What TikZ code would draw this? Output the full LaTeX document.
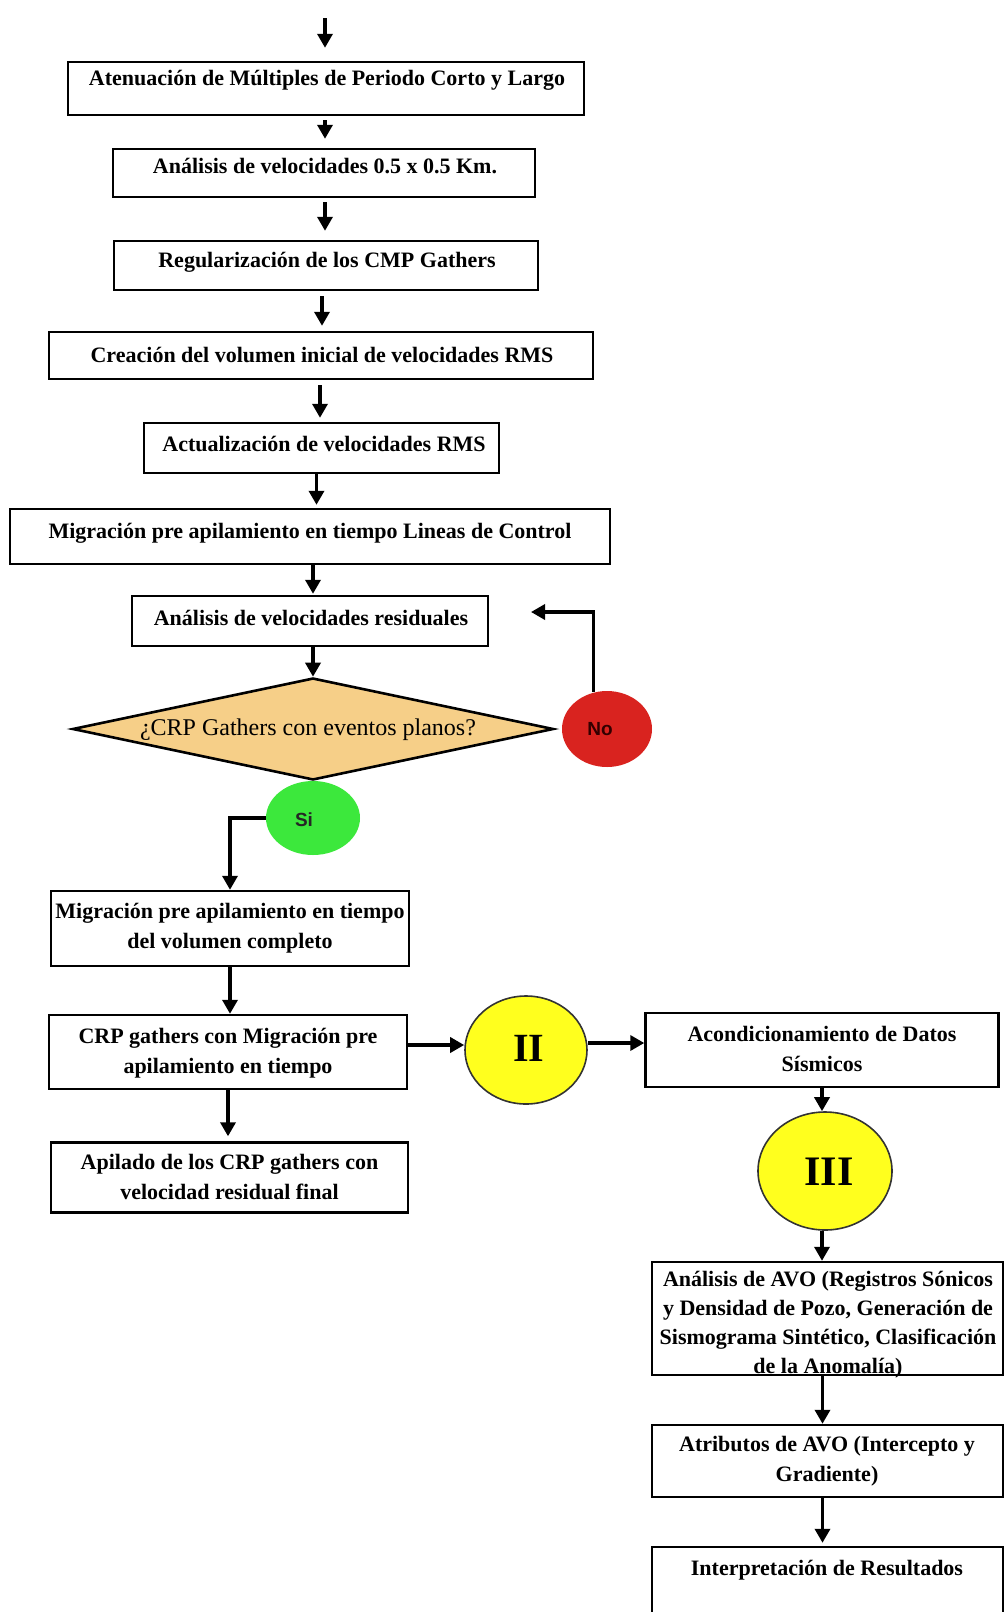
\documentclass[tikz,border=0pt]{standalone}
\usepackage{fontspec}
\setmainfont{Liberation Serif}
\newfontfamily\sansf{Liberation Sans}
\usetikzlibrary{shapes.geometric,arrows.meta}
\definecolor{dia}{HTML}{F6CF88}
\definecolor{nored}{HTML}{D9231F}
\definecolor{sigreen}{HTML}{3CE83C}
\definecolor{yel}{HTML}{FFFF1E}
\begin{document}
\begin{tikzpicture}[x=1pt,y=-1pt,
  box/.style={draw, line width=2.4pt, rectangle, inner sep=0pt},
  txt/.style={font=\fontsize{22}{30}\selectfont\bfseries, align=center, inner sep=0pt},
  arr/.style={line width=3.4pt, -{Triangle[length=14pt,width=15pt]}},
  yelc/.style={ellipse, draw=black!80, line width=1.6pt, fill=yel, inner sep=0pt},
  lab/.style={font=\sansf\bfseries\fontsize{19}{19}\selectfont, inner sep=0pt}
]
\useasboundingbox (0,0) rectangle (1006,1612);

% boxes
\node[box, minimum width=516pt, minimum height=53pt] (A) at (326,88.5) {};
\node[txt] (At) at (327,80) {Atenuación de Múltiples de Periodo Corto y Largo};
\node[box, minimum width=422pt, minimum height=48pt] (B) at (324,173) {};
\node[txt] (Bt) at (325,166) {Análisis de velocidades 0.5 x 0.5 Km.};
\node[box, minimum width=424pt, minimum height=49pt] (C) at (326,265.5) {};
\node[txt] (Ct) at (327,262) {Regularización de los CMP Gathers};
\node[box, minimum width=544pt, minimum height=47pt] (D) at (321,355.5) {};
\node[txt] (Dt) at (322,355) {Creación del volumen inicial de velocidades RMS};
\node[box, minimum width=355pt, minimum height=50pt] (E) at (321.5,448) {};
\node[txt] (Et) at (324,444) {Actualización de velocidades RMS};
\node[box, minimum width=600pt, minimum height=55pt] (F) at (310,536.5) {};
\node[txt] (Ft) at (310,533) {Migración pre apilamiento en tiempo Lineas de Control};
\node[box, minimum width=356pt, minimum height=50pt] (G) at (310,621) {};
\node[txt] (Gt) at (311,618) {Análisis de velocidades residuales};

% decision
\node[diamond, draw, line width=2.6pt, fill=dia, minimum width=481pt, minimum height=102pt, inner sep=0pt] (dec) at (313,729) {};
\node[font=\fontsize{24}{24}\selectfont, inner sep=0pt] (dect) at (308,730) {¿CRP Gathers con eventos planos?};
\node[ellipse, fill=nored, minimum width=90pt, minimum height=76pt, inner sep=0pt] (No) at (607,729) {};
\node[lab, text=black!80!red] (Not) at (600,729) {No};
\node[ellipse, fill=sigreen, minimum width=94pt, minimum height=74pt, inner sep=0pt] (Si) at (313,818) {};
\node[lab, text=black!85] (Sit) at (304,820) {Si};
\coordinate (noend) at (531,612);

% left column lower
\node[box, minimum width=358pt, minimum height=75pt] (H) at (230,928.5) {};
\node[txt] (Ht) at (230,928) {Migración pre apilamiento en tiempo\\del volumen completo};
\node[box, minimum width=358pt, minimum height=74pt] (I) at (228,1052) {};
\node[txt] (It) at (228,1053) {CRP gathers con Migración pre\\apilamiento en tiempo};
\node[box, minimum width=357pt, minimum height=70pt] (N) at (229.5,1177.5) {};
\node[txt] (Nt) at (229.5,1177) {Apilado de los CRP gathers con\\velocidad residual final};

% circles and right column
\node[yelc, minimum width=122pt, minimum height=108pt] (II) at (526,1050) {};
\node[font=\fontsize{40}{40}\selectfont\bfseries, inner sep=0pt] (IIt) at (529,1048) {II};
\node[box, minimum width=353pt, minimum height=74pt] (J) at (822,1050) {};
\node[txt] (Jt) at (822,1049) {Acondicionamiento de Datos\\Sísmicos};
\node[yelc, minimum width=134pt, minimum height=118pt] (III) at (825,1171) {};
\node[font=\fontsize{42}{42}\selectfont\bfseries, inner sep=0pt] (IIIt) at (829,1172) {III};
\node[txt, font=\fontsize{22}{29}\selectfont\bfseries] (Kt) at (828,1325) {Análisis de AVO (Registros Sónicos\\y Densidad de Pozo, Generación de\\Sismograma Sintético, Clasificación\\de la Anomalía)};
\node[box, minimum width=351pt, minimum height=113pt] (K) at (827.5,1318.5) {};
\node[box, minimum width=351pt, minimum height=72pt] (L) at (827.5,1461) {};
\node[txt] (Lt) at (827,1461) {Atributos de AVO (Intercepto y\\Gradiente)};
\node[box, minimum width=351pt, minimum height=90pt] (M) at (827.5,1592) {};
\node[txt] (Mt) at (827,1570) {Interpretación de Resultados};

% connectors
\coordinate (top) at (325,18);
\draw[arr, shorten >=13pt] (top) -- (top |- A.north);
\draw[arr, shorten <=4pt, shorten >=9pt] ([xshift=-1pt]A.south) -- ([xshift=-1pt]A.south |- B.north);
\draw[arr, shorten <=4pt, shorten >=9pt] ([xshift=1pt]B.south) -- ([xshift=1pt]B.south |- C.north);
\draw[arr, shorten <=5pt, shorten >=5pt] ([xshift=-4pt]C.south) -- ([xshift=-4pt]C.south |- D.north);
\draw[arr, shorten <=5pt, shorten >=4pt] ([xshift=-1pt]D.south) -- ([xshift=-1pt]D.south |- E.north);
\draw[arr, shorten >=3pt] ([xshift=-5pt]E.south) -- ([xshift=-5pt]E.south |- F.north);
\draw[arr, shorten >=1pt] ([xshift=3pt]F.south) -- ([xshift=3pt]F.south |- G.north);
\draw[arr] (dec.north |- G.south) -- (dec.north);
\draw[arr] (No.110) |- (noend);
\draw[arr] (Si.west) -| (H.north);
\draw[arr] (H.south) -- (H.south |- I.north);
\draw[arr, shorten >=5pt] (I.south) -- (I.south |- N.north);
\draw[arr] ([yshift=7pt]I.east) -- ([yshift=7pt]I.east -| II.west);
\draw[arr] ([yshift=7pt]II.east) -- ([yshift=7pt]II.east -| J.west);
\draw[arr] (J.south) -- (J.south |- III.north);
\draw[arr] ([xshift=-3pt]III.south) -- ([xshift=-3pt]III.south |- K.north);
\draw[arr] ([xshift=-5pt]K.south) -- ([xshift=-5pt]K.south |- L.north);
\draw[arr, shorten >=3pt] ([xshift=-5pt]L.south) -- ([xshift=-5pt]L.south |- M.north);
\end{tikzpicture}
\end{document}
